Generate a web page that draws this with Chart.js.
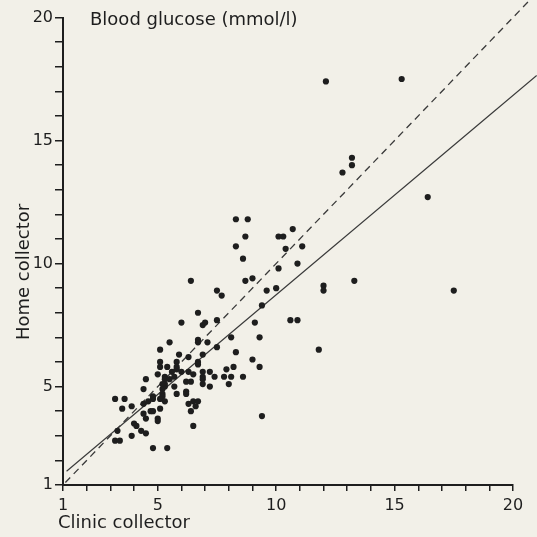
<!DOCTYPE html>
<html>
<head>
<meta charset="utf-8">
<title>Blood glucose</title>
<script src="https://cdn.jsdelivr.net/npm/chart.js@4.4.1/dist/chart.umd.min.js"></script>
<style>
  html, body { margin: 0; padding: 0; background: #f2f0e8; }
  #wrap { width: 537px; height: 537px; }
</style>
</head>
<body>
<div id="wrap"><canvas id="chart" width="537" height="537"></canvas></div>
<script>
// Clinic collector (x) vs home collector (y), mmol/l
const clinic = [
  12.1, 15.3, 13.2, 13.2, 12.8, 16.4, 10.7, 10.1, 10.3, 10.4,
  11.1, 10.9, 10.1, 9.0, 13.3, 9.6, 10.0, 12.0, 12.0, 17.5,
  9.4, 9.1, 10.6, 10.9, 9.3, 11.8, 9.0, 9.3, 8.3, 8.8,
  8.7, 8.3, 8.6, 6.4, 8.7, 7.5, 7.7, 6.7, 7.5, 6.0,
  6.9, 7.0, 9.4, 5.5, 6.7, 6.7, 7.1, 8.1, 5.1, 7.5,
  8.3, 5.9, 6.3, 6.9, 5.1, 5.1, 5.8, 5.8, 5.8, 6.7,
  6.7, 5.4, 5.6, 6.0, 6.3, 6.5, 6.9, 7.2, 7.9, 8.2,
  5.0, 5.3, 5.3, 5.5, 6.9, 6.9, 6.9, 7.4, 7.8, 8.1,
  8.6, 4.5, 5.3, 5.3, 5.7, 6.2, 6.4, 8.0, 7.2, 4.4,
  5.2, 5.2, 5.2, 5.2, 6.2, 6.2, 5.8, 5.1, 5.3, 4.4,
  4.6, 4.8, 4.8, 6.3, 6.5, 6.7, 3.2, 3.6, 3.5, 3.9,
  5.1, 6.6, 6.4, 4.7, 4.8, 4.4, 4.5, 5.0, 5.0, 4.0,
  4.1, 6.5, 3.9, 4.3, 4.5, 3.3, 3.2, 3.4, 4.8, 5.4,
  5.7
];
const home = [
  17.4, 17.5, 14.3, 14.0, 13.7, 12.7, 11.4, 11.1, 11.1, 10.6,
  10.7, 10.0, 9.8, 9.4, 9.3, 8.9, 9.0, 9.1, 8.9, 8.9,
  8.3, 7.6, 7.7, 7.7, 7.0, 6.5, 6.1, 5.8, 11.8, 11.8,
  11.1, 10.7, 10.2, 9.3, 9.3, 8.9, 8.7, 8.0, 7.7, 7.6,
  7.5, 7.6, 3.8, 6.8, 6.9, 6.8, 6.8, 7.0, 6.5, 6.6,
  6.4, 6.3, 6.2, 6.3, 6.0, 5.8, 6.0, 5.8, 5.7, 6.0,
  5.9, 5.8, 5.6, 5.6, 5.6, 5.5, 5.6, 5.6, 5.7, 5.8,
  5.5, 5.4, 5.3, 5.3, 5.4, 5.3, 5.1, 5.4, 5.4, 5.4,
  5.4, 5.3, 5.1, 5.0, 5.0, 5.2, 5.2, 5.1, 5.0, 4.9,
  5.1, 4.9, 4.7, 4.6, 4.8, 4.7, 4.7, 4.5, 4.4, 4.3,
  4.4, 4.5, 4.6, 4.3, 4.4, 4.4, 4.5, 4.5, 4.1, 4.2,
  4.1, 4.2, 4.0, 4.0, 4.0, 3.9, 3.7, 3.7, 3.6, 3.5,
  3.4, 3.4, 3.0, 3.2, 3.1, 3.2, 2.8, 2.8, 2.5, 2.5,
  5.4
];

// regression line (solid) and line of identity (dashed)
const fitX = [1.15, 21];
const fitY = [1.56, 17.64];
const idX = [1.1, 20.8];
const idY = [1.1, 20.8];

const xTickLabels = [1, 5, 10, 15, 20];
const yTickLabels = [1, 5, 10, 15, 20];

const INK = '#1e1e1e';
const FONT = 'DejaVu Sans';

const paper = {
  id: 'paper',
  beforeDraw(chart) {
    const ctx = chart.ctx;
    ctx.save();
    ctx.fillStyle = '#f2f0e8';
    ctx.fillRect(0, 0, chart.width, chart.height);
    ctx.restore();
  },
  afterDraw(chart) {
    const ctx = chart.ctx;
    ctx.save();
    ctx.fillStyle = INK;
    ctx.font = '18px "' + FONT + '"';
    ctx.textBaseline = 'middle';
    ctx.textAlign = 'left';
    ctx.fillText('Blood glucose (mmol/l)', 90, 20);
    ctx.fillText('Clinic collector', 58, 523);
    ctx.translate(24, 272);
    ctx.rotate(-Math.PI / 2);
    ctx.textAlign = 'center';
    ctx.fillText('Home collector', 0, 0);
    ctx.restore();
  }
};

const toPoints = (xs, ys) => xs.map((x, i) => ({ x: x, y: ys[i] }));

new Chart(document.getElementById('chart'), {
  type: 'scatter',
  data: {
    datasets: [
      {
        data: toPoints(clinic, home),
        backgroundColor: INK,
        borderWidth: 0,
        pointRadius: 3.1
      },
      {
        type: 'line',
        data: toPoints(fitX, fitY),
        borderColor: '#3a3a3a',
        borderWidth: 1.2,
        pointRadius: 0,
        clip: false
      },
      {
        type: 'line',
        data: toPoints(idX, idY),
        borderColor: '#3a3a3a',
        borderWidth: 1.3,
        borderDash: [7, 5],
        pointRadius: 0,
        clip: false
      }
    ]
  },
  options: {
    responsive: false,
    animation: false,
    layout: { padding: { top: 17.5, right: 24, left: 0, bottom: 0 } },
    plugins: {
      legend: { display: false },
      tooltip: { enabled: false }
    },
    scales: {
      x: {
        type: 'linear',
        min: 1,
        max: 20,
        afterFit: s => { s.height = 52; },
        border: { display: true, color: INK, width: 2 },
        grid: { drawOnChartArea: false, drawTicks: true, tickLength: 6, color: INK, lineWidth: 1.5 },
        ticks: {
          stepSize: 1,
          padding: 5,
          color: INK,
          font: { family: FONT, size: 16 },
          maxRotation: 0,
          autoSkip: false,
          callback: v => xTickLabels.includes(v) ? String(v) : ''
        }
      },
      y: {
        type: 'linear',
        min: 1,
        max: 20,
        afterFit: s => { s.width = 63; },
        border: { display: true, color: INK, width: 2 },
        grid: { drawOnChartArea: false, drawTicks: true, tickLength: 8, color: INK, lineWidth: 1.5 },
        ticks: {
          stepSize: 1,
          padding: 2,
          color: INK,
          font: { family: FONT, size: 16 },
          autoSkip: false,
          callback: v => yTickLabels.includes(v) ? String(v) : ''
        }
      }
    }
  },
  plugins: [paper]
});
</script>
</body>
</html>
